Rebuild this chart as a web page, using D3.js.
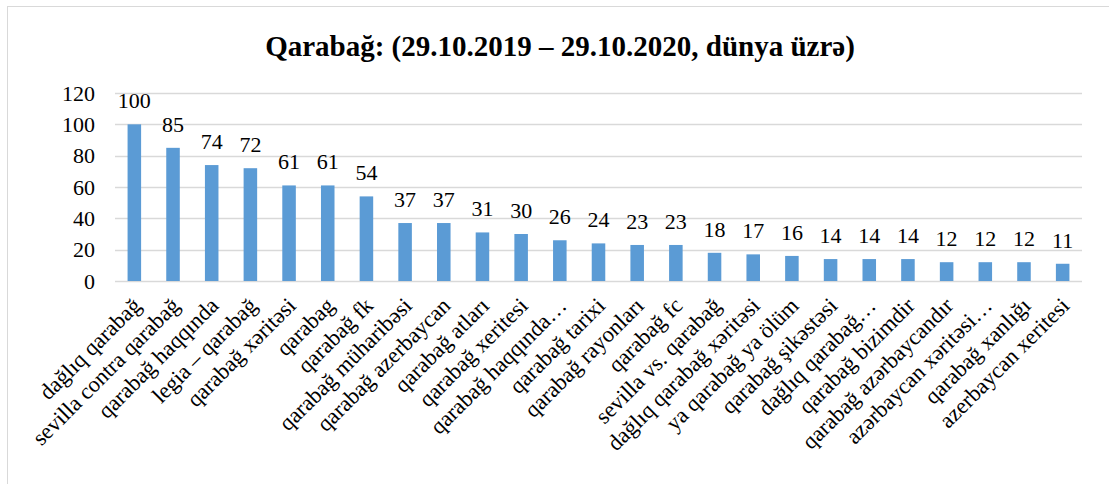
<!DOCTYPE html>
<html>
<head>
<meta charset="utf-8">
<script src="https://cdn.jsdelivr.net/npm/d3@7"></script>
<style>
body { margin: 0; background: #fff; }
text { font-family: "Liberation Serif", "Times New Roman", serif; fill: #000; }
</style>
</head>
<body>
<svg width="1109" height="484"></svg>
<script>
var svg = d3.select("svg");

var titleText = "Qarabağ: (29.10.2019 – 29.10.2020, dünya üzrə)";
var terms = ["dağlıq qarabağ", "sevilla contra qarabağ", "qarabağ haqqında", "legia – qarabağ", "qarabağ xəritəsi",
    "qarabag", "qarabağ fk", "qarabağ müharibəsi", "qarabağ azerbaycan", "qarabağ atları",
    "qarabağ xeritesi", "qarabağ haqqında…", "qarabağ tarixi", "qarabağ rayonları", "qarabağ fc",
    "sevilla vs. qarabağ", "dağlıq qarabağ xəritəsi", "ya qarabağ ya ölüm", "qarabağ şikəstəsi", "dağlıq qarabağ…",
    "qarabağ bizimdir", "qarabağ azərbaycandır", "azərbaycan xəritəsi…", "qarabağ xanlığı", "azerbaycan xeritesi"];
var scores = [100, 85, 74, 72, 61, 61, 54, 37, 37, 31, 30, 26, 24, 23, 23, 18, 17, 16, 14, 14, 14, 12, 12, 12, 11];
var yTicks = [0, 20, 40, 60, 80, 100, 120];

// chart frame
svg.append("rect")
    .attr("x", 7.5).attr("y", 6.5)
    .attr("width", 1120).attr("height", 500)
    .attr("fill", "none")
    .attr("stroke", "#d9d9d9");

svg.append("text")
    .attr("x", 560).attr("y", 56)
    .attr("text-anchor", "middle")
    .style("font-size", "29px")
    .style("font-weight", "bold")
    .text(titleText);

var pLeft = 115, pRight = 1082, pTop = 93, pBottom = 281;

var x = d3.scaleBand().domain(terms).range([pLeft, pRight]).paddingInner(0.65).paddingOuter(0.325);
var y = d3.scaleLinear().domain([0, 120]).range([pBottom, pTop]);

// gridlines
svg.append("g").selectAll("line")
    .data(yTicks)
    .enter().append("line")
    .attr("x1", pLeft).attr("x2", pRight)
    .attr("y1", function(d) { return Math.round(y(d)) + 0.5; })
    .attr("y2", function(d) { return Math.round(y(d)) + 0.5; })
    .attr("stroke", "#d9d9d9")
    .attr("stroke-width", 1.3);

var yAxis = svg.append("g")
    .attr("transform", "translate(" + pLeft + ",0)")
    .call(d3.axisLeft(y).tickValues(yTicks).tickSize(0).tickPadding(20));
yAxis.select(".domain").remove();
yAxis.selectAll("text").style("font-size", "22px").style("font-family", "Liberation Serif");

svg.append("g").selectAll("rect")
    .data(scores)
    .enter().append("rect")
    .attr("x", function(d, i) { return x(terms[i]); })
    .attr("y", function(d) { return y(d); })
    .attr("width", x.bandwidth())
    .attr("height", function(d) { return pBottom - y(d); })
    .attr("fill", "#5b9bd5");

svg.append("g").selectAll("text")
    .data(scores)
    .enter().append("text")
    .attr("x", function(d, i) { return x(terms[i]) + x.bandwidth() / 2; })
    .attr("y", function(d) { return y(d) - 16; })
    .attr("text-anchor", "middle")
    .style("font-size", "22px")
    .text(function(d) { return d; });

var xAxis = svg.append("g")
    .attr("transform", "translate(0," + pBottom + ")")
    .call(d3.axisBottom(x).tickSize(0).tickPadding(0));
xAxis.select(".domain").remove();
xAxis.selectAll("text")
    .style("font-size", "22.5px")
    .style("font-family", "Liberation Serif")
    .attr("text-anchor", "end")
    .attr("dy", null)
    .attr("transform", "translate(8,26) rotate(-45)");
</script>
</body>
</html>
